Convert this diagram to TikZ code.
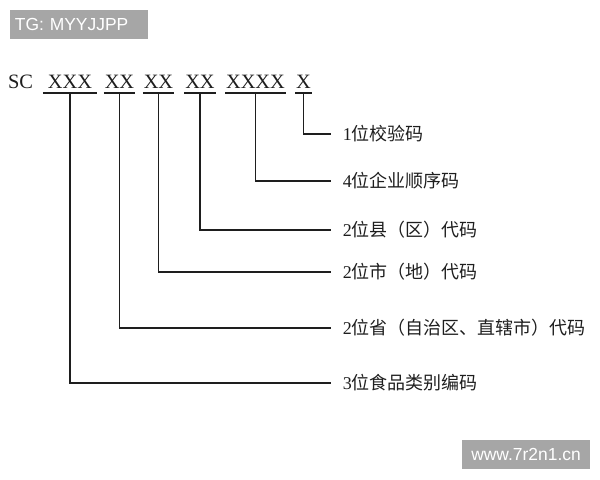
\documentclass[tikz,border=0pt]{standalone}
\usepackage{fontspec}
\setmainfont{Liberation Serif}
\setsansfont{Liberation Sans}
\newfontfamily\cjk{Noto Sans CJK SC}
\usetikzlibrary{positioning}
\definecolor{badgegray}{HTML}{A6A6A6}
\definecolor{inkline}{HTML}{1E1E1E}

\tikzset{
	group/.style={inner xsep=0.7pt, inner ysep=3.5pt, outer sep=0pt, anchor=south,
		text=inkline, font=\fontsize{14.5}{16}\selectfont},
	codeline/.style={line width=0.9pt, color=inkline},
	desc/.style={anchor=west, inner xsep=8.5pt, inner ysep=0pt, outer sep=0pt,
		text=inkline, font=\fontsize{12.8}{14}\selectfont},
	badge/.style={fill=badgegray, text=white, inner sep=0pt, outer sep=0pt,
		font=\sffamily\fontsize{12.4}{14}\selectfont, minimum height=0.725cm}
}

\begin{document}
\begin{tikzpicture}[x=0.025cm, y=-0.025cm]
	\useasboundingbox (0,0) rectangle (600,480);
	
	% grey tags
	\node (tg) [badge, anchor=north west, minimum width=3.45cm, text width=3.45cm-7pt,
		inner xsep=3.5pt, align=left] at (10,10) {TG: MYYJJPP};
	\node (web) [badge, anchor=north west, minimum width=3.2cm] at (462,440) {www.7r2n1.cn};
	
	% the code
	\node (sc) [inner sep=0pt, text=inkline, font=\fontsize{14.5}{16}\selectfont] at (20.5,81.5) {SC};
	\node (g1) [group, minimum width=1.35cm] at (70,93) {XXX};
	\node (g2) [group] at (119.5,93) {XX};
	\node (g3) [group] at (158.5,93) {XX};
	\node (g4) [group] at (200,93) {XX};
	\node (g5) [group] at (255.5,93) {XXXX};
	\node (g6) [group] at (303.5,93) {X};
	\foreach \g in {g1,g2,g3,g4,g5,g6}
		\draw[codeline] (\g.south west) -- (\g.south east);
	
	% meanings
	\node (d1) [desc] at (331,134) {1{\cjk 位校验码}};
	\node (d2) [desc] at (331,181) {4{\cjk 位企业顺序码}};
	\node (d3) [desc] at (331,230) {2{\cjk 位县（区）代码}};
	\node (d4) [desc] at (331,272) {2{\cjk 位市（地）代码}};
	\node (d5) [desc] at (331,328) {2{\cjk 位省（自治区、直辖市）代码}};
	\node (d6) [desc] at (331,383) {3{\cjk 位食品类别编码}};
	
	\draw[codeline] (g6.south) |- (d1.west);
	\draw[codeline] (g5.south) |- (d2.west);
	\draw[codeline] (g4.south) |- (d3.west);
	\draw[codeline] (g3.south) |- (d4.west);
	\draw[codeline] (g2.south) |- (d5.west);
	\draw[codeline] (g1.south) |- (d6.west);
	
\end{tikzpicture}
\end{document}
